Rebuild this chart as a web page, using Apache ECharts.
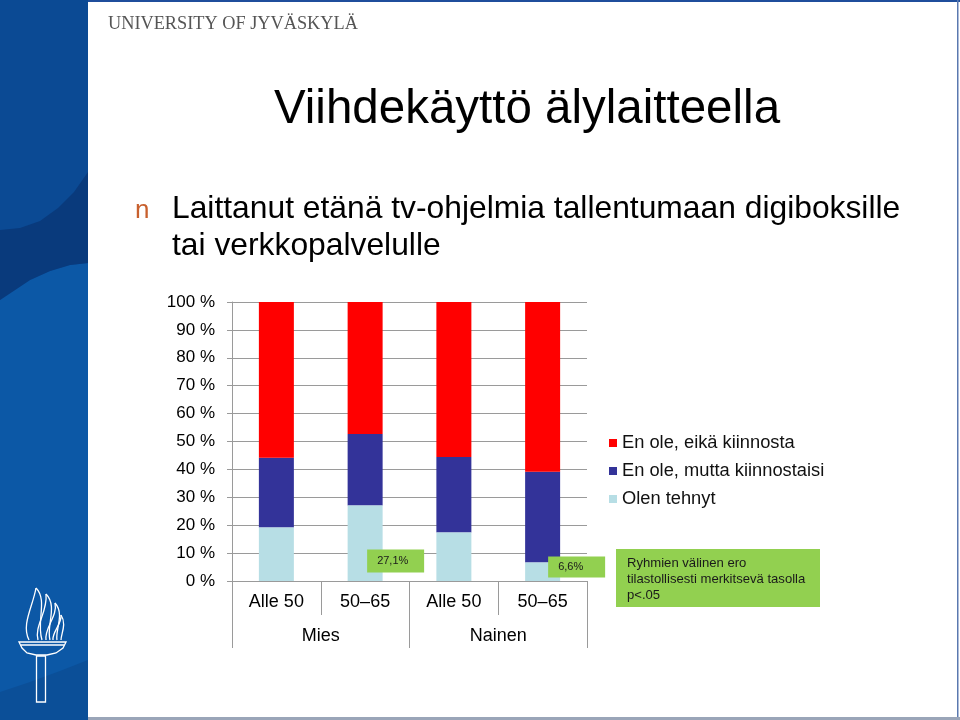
<!DOCTYPE html>
<html>
<head>
<meta charset="utf-8">
<script src="https://cdn.jsdelivr.net/npm/echarts@6/dist/echarts.min.js"></script>
<style>
html,body{margin:0;padding:0;background:#fff;}
#chart{width:960px;height:720px;}
</style>
</head>
<body>
<div id="chart"></div>
<script>
// ---- data ----
var categories = ['Alle 50', '50–65', 'Alle 50', '50–65'];
var groups = ['Mies', 'Nainen'];
var seriesNames = ['Olen tehnyt', 'En ole, mutta kiinnostaisi', 'En ole, eikä kiinnosta'];
var olenTehnyt = [19.2, 27.1, 17.4, 6.6];
var kiinnostaisi = [25.0, 25.6, 27.0, 32.6];
var eiKiinnosta = [55.8, 47.3, 55.6, 60.8];
var olenLabels = ['', '27,1%', '', '6,6%'];
var yTicks = [0, 10, 20, 30, 40, 50, 60, 70, 80, 90, 100];

var FONT = '"Liberation Sans", Arial, sans-serif';
var AXIS_GRAY = '#9a9a9a';

var labelOffsets = [null, [19.5, 44], null, [23, -6]];
var labelPads = [null, [6, 0, 6, 10], null, [5, 0, 5, 10]];

var olenData = olenTehnyt.map(function (v, i) {
  var item = { value: v };
  if (olenLabels[i]) {
    item.label = {
      show: true,
      formatter: olenLabels[i],
      position: labelOffsets[i],
      backgroundColor: '#92d050',
      color: '#1a1a1a',
      fontSize: 11,
      fontFamily: FONT,
      lineHeight: 11,
      width: 47,
      padding: labelPads[i]
    };
  }
  return item;
});

function bez(x1, y1, c1x, c1y, c2x, c2y, x2, y2) {
  return { type: 'bezierCurve', z: 5, shape: { x1: x1, y1: y1, cpx1: c1x, cpy1: c1y, cpx2: c2x, cpy2: c2y, x2: x2, y2: y2 },
    style: { stroke: '#ffffff', lineWidth: 1.3, fill: 'none' } };
}

var chart = echarts.init(document.getElementById('chart'), null, { renderer: 'canvas' });

var graphics = [
  // left blue strip
  { type: 'rect', shape: { x: 0, y: 0, width: 88, height: 720 }, style: { fill: '#0c58a6' }, z: 0 },
  { type: 'polygon', shape: { points: [[0, 0], [88, 0], [88, 263], [70, 265], [50, 271], [30, 280], [12, 292], [0, 300]] }, style: { fill: '#0b4a94' }, z: 1 },
  { type: 'polygon', shape: { points: [[0, 230], [20, 228], [40, 221], [58, 208], [74, 192], [88, 172], [88, 263], [70, 265], [50, 271], [30, 280], [12, 292], [0, 300]] }, style: { fill: '#093a7c' }, z: 2 },
  { type: 'polygon', shape: { points: [[0, 692], [30, 682], [60, 671], [88, 660], [88, 720], [0, 720]] }, style: { fill: '#0b4f98' }, z: 2 },
  // torch logo: flames
  bez(29, 640, 21, 625, 33, 606, 36, 588),
  bez(36, 588, 48, 600, 36, 622, 42, 640),
  bez(38, 640, 34, 626, 48, 612, 46, 594),
  bez(46, 594, 58, 606, 46, 626, 50, 640),
  bez(46, 640, 44, 628, 58, 616, 55, 603),
  bez(55, 603, 65, 614, 55, 630, 57, 640),
  bez(53, 640, 52, 632, 62, 624, 61, 615),
  bez(61, 615, 67, 624, 61, 634, 61, 640),
  // torch bowl and stem
  { type: 'polygon', z: 5, shape: { points: [[19, 642], [66, 642], [63, 648], [56, 653], [47, 655], [36, 655], [27, 653], [22, 648]] },
    style: { fill: 'none', stroke: '#ffffff', lineWidth: 1.3 } },
  { type: 'line', z: 5, shape: { x1: 21, y1: 645, x2: 64, y2: 645 }, style: { stroke: '#ffffff', lineWidth: 1.3 } },
  { type: 'rect', z: 5, shape: { x: 36.5, y: 656, width: 9, height: 46 }, style: { fill: 'none', stroke: '#ffffff', lineWidth: 1.3 } },
  // frame lines
  { type: 'rect', shape: { x: 88, y: 0, width: 872, height: 2 }, style: { fill: '#1f4e9c' }, z: 3 },
  { type: 'rect', shape: { x: 957, y: 0, width: 1.5, height: 720 }, style: { fill: '#5a79b0' }, z: 3 },
  { type: 'rect', shape: { x: 88, y: 717, width: 872, height: 3 }, style: { fill: '#9aa5b8' }, z: 3 },
  // header
  { type: 'text', x: 108, y: 24, z: 5, style: { text: 'UNIVERSITY OF JYVÄSKYLÄ', font: '18.3px "Liberation Serif", "Times New Roman", serif', fill: '#555555', textAlign: 'left', textVerticalAlign: 'middle' } },
  // title
  { type: 'text', x: 527, y: 110, z: 5, style: { text: 'Viihdekäyttö älylaitteella', font: '47.5px ' + FONT, fill: '#000000', textAlign: 'center', textVerticalAlign: 'middle' } },
  // bullet
  { type: 'text', x: 135, y: 211, z: 5, style: { text: 'n', font: '26px ' + FONT, fill: '#c8602e', textAlign: 'left', textVerticalAlign: 'middle' } },
  { type: 'text', x: 172, y: 209, z: 5, style: { text: 'Laittanut etänä tv-ohjelmia tallentumaan digiboksille', font: '31.8px ' + FONT, fill: '#000000', textAlign: 'left', textVerticalAlign: 'middle' } },
  { type: 'text', x: 172, y: 246, z: 5, style: { text: 'tai verkkopalvelulle', font: '31.8px ' + FONT, fill: '#000000', textAlign: 'left', textVerticalAlign: 'middle' } },
  // significance note box
  { type: 'rect', z: 5, shape: { x: 616, y: 549, width: 204, height: 58 }, style: { fill: '#92d050' } },
  { type: 'text', x: 627, y: 555, z: 6, style: { text: 'Ryhmien välinen ero\ntilastollisesti merkitsevä tasolla\np<.05', font: '13.1px ' + FONT, fill: '#1a1a1a', textAlign: 'left', textVerticalAlign: 'top', lineHeight: 16 } }
];

var option = {
  animation: false,
  backgroundColor: '#ffffff',
  textStyle: { fontFamily: FONT },
  graphic: graphics,
  legend: {
    orient: 'vertical',
    left: 609,
    top: 434,
    padding: 0,
    itemWidth: 8,
    itemHeight: 8,
    itemGap: 10,
    icon: 'rect',
    data: [seriesNames[2], seriesNames[1], seriesNames[0]],
    textStyle: { fontSize: 18.3, color: '#111', fontFamily: FONT, lineHeight: 18 }
  },
  grid: { left: 232, right: 373, top: 302, bottom: 139 },
  xAxis: [
    {
      type: 'category',
      data: categories,
      position: 'bottom',
      axisLine: { show: true, lineStyle: { color: AXIS_GRAY, width: 1 } },
      axisTick: { show: true, interval: 0, length: 34, lineStyle: { color: AXIS_GRAY } },
      axisLabel: { interval: 0, fontSize: 18, color: '#000', margin: 12, fontFamily: FONT }
    },
    {
      type: 'category',
      data: groups,
      position: 'bottom',
      offset: 34,
      axisLine: { show: false },
      axisTick: { show: true, interval: 0, length: 33, lineStyle: { color: AXIS_GRAY } },
      axisLabel: { interval: 0, fontSize: 18, color: '#000', margin: 12, fontFamily: FONT }
    }
  ],
  yAxis: {
    type: 'value',
    min: yTicks[0],
    max: yTicks[yTicks.length - 1],
    interval: 10,
    axisLine: { show: true, lineStyle: { color: AXIS_GRAY } },
    axisTick: { show: true, length: 5, lineStyle: { color: AXIS_GRAY } },
    axisLabel: { formatter: '{value} %', fontSize: 17, color: '#000', margin: 17, fontFamily: FONT },
    splitLine: { show: true, lineStyle: { color: AXIS_GRAY } }
  },
  series: [
    { name: seriesNames[0], type: 'bar', stack: 's', barWidth: 35, itemStyle: { color: '#b7dee5' }, data: olenData, z: 3 },
    { name: seriesNames[1], type: 'bar', stack: 's', barWidth: 35, itemStyle: { color: '#333399' }, data: kiinnostaisi, z: 2 },
    { name: seriesNames[2], type: 'bar', stack: 's', barWidth: 35, itemStyle: { color: '#ff0000' }, data: eiKiinnosta, z: 2 }
  ]
};
chart.setOption(option);
</script>
</body>
</html>
